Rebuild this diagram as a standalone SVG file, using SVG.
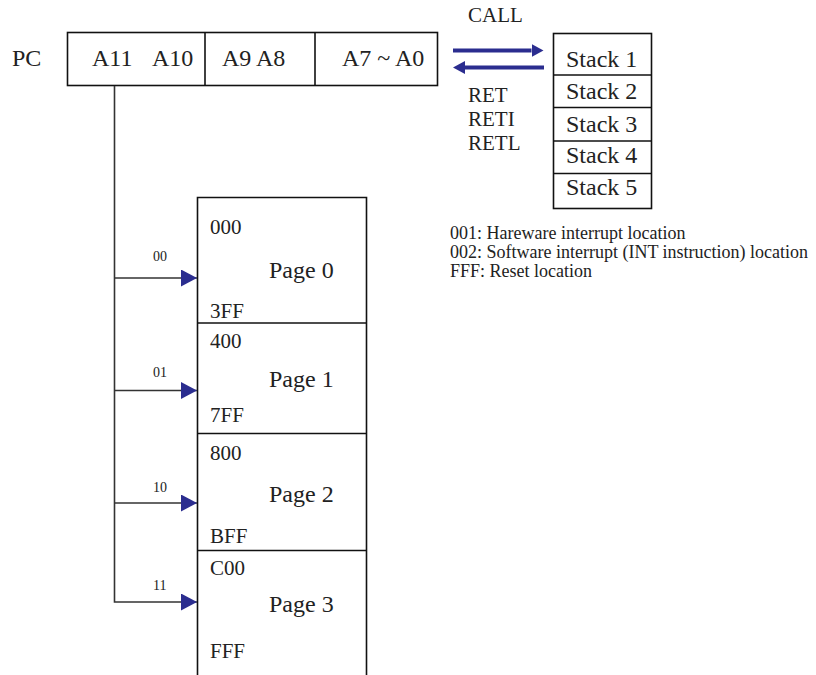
<svg xmlns="http://www.w3.org/2000/svg" width="816" height="675" viewBox="0 0 816 675">
<defs>
<style>
text{font-family:"Liberation Serif","Times New Roman",serif;fill:#222}
.box{fill:none;stroke:#111;stroke-width:1.6}
.t24{font-size:24px}
.t20{font-size:21px}
.t18{font-size:18px}
.t14{font-size:14px}
.conn{fill:none;stroke:#333;stroke-width:1.6}
.blue{fill:none;stroke:#2B2D8F;stroke-width:4}
</style>
<marker id="tri" viewBox="0 0 16 17" refX="16" refY="8.5" markerWidth="16" markerHeight="17" markerUnits="userSpaceOnUse" orient="auto">
<path d="M0,0 L16,8.5 L0,17 Z" fill="#2B2D8F"/>
</marker>
<marker id="btri" viewBox="0 0 12 13" refX="0" refY="6.5" markerWidth="12" markerHeight="13" markerUnits="userSpaceOnUse" orient="auto">
<path d="M0,0 L12,6.5 L0,13 Z" fill="#2B2D8F"/>
</marker>
</defs>
<rect width="816" height="675" fill="#fff"/>

<g id="pc">
<text class="t24" x="12" y="66">PC</text>
<rect class="box" x="67.5" y="32.5" width="370" height="53"/>
<line class="box" x1="205" y1="32.5" x2="205" y2="85.5"/>
<line class="box" x1="315" y1="32.5" x2="315" y2="85.5"/>
<text class="t24" x="92" y="66">A11</text>
<text class="t24" x="152" y="66">A10</text>
<text class="t24" x="222" y="66">A9 A8</text>
<text class="t24" x="342" y="66">A7 ~ A0</text>
</g>

<g id="stack">
<rect class="box" x="553.5" y="33.5" width="98" height="175"/>
<line class="box" x1="553.5" y1="75" x2="651.5" y2="75"/>
<line class="box" x1="553.5" y1="107.5" x2="651.5" y2="107.5"/>
<line class="box" x1="553.5" y1="141" x2="651.5" y2="141"/>
<line class="box" x1="553.5" y1="173.5" x2="651.5" y2="173.5"/>
<text class="t24" x="566" y="67">Stack 1</text>
<text class="t24" x="566" y="99">Stack 2</text>
<text class="t24" x="566" y="132">Stack 3</text>
<text class="t24" x="566" y="163">Stack 4</text>
<text class="t24" x="566" y="195">Stack 5</text>
</g>

<g id="pages">
<path class="box" d="M197.5,675 V197.5 H366.5 V675"/>
<line class="box" x1="197.5" y1="323" x2="366.5" y2="323"/>
<line class="box" x1="197.5" y1="433.5" x2="366.5" y2="433.5"/>
<line class="box" x1="197.5" y1="550.5" x2="366.5" y2="550.5"/>
</g>
<g id="page0">
<text class="t20" x="210" y="234">000</text>
<text class="t24" x="269" y="278">Page 0</text>
<text class="t20" x="210" y="318">3FF</text>
</g>
<g id="page1">
<text class="t20" x="210" y="348">400</text>
<text class="t24" x="269" y="387">Page 1</text>
<text class="t20" x="210" y="422">7FF</text>
</g>
<g id="page2">
<text class="t20" x="210" y="460">800</text>
<text class="t24" x="269" y="502">Page 2</text>
<text class="t20" x="210" y="543">BFF</text>
</g>
<g id="page3">
<text class="t20" x="210" y="575">C00</text>
<text class="t24" x="269" y="612">Page 3</text>
<text class="t20" x="210" y="658">FFF</text>
</g>

<g id="notes">
<text class="t18" x="450" y="239">001: Hareware interrupt location</text>
<text class="t18" x="450" y="258">002: Software interrupt (INT instruction) location</text>
<text class="t18" x="450" y="277">FFF: Reset location</text>
</g>

<g id="connectors">
<path class="conn" d="M114.5,86 V602 H197" marker-end="url(#tri)"/>
<line class="conn" x1="114.5" y1="278" x2="197" y2="278" marker-end="url(#tri)"/>
<line class="conn" x1="114.5" y1="390.5" x2="197" y2="390.5" marker-end="url(#tri)"/>
<line class="conn" x1="114.5" y1="503" x2="197" y2="503" marker-end="url(#tri)"/>
<line class="blue" x1="453" y1="50.5" x2="531.5" y2="50.5" marker-end="url(#btri)"/>
<line class="blue" x1="544" y1="67.5" x2="465" y2="67.5" marker-end="url(#btri)"/>
<text class="t20" x="468" y="22">CALL</text>
<text class="t20" x="468" y="102">RET</text>
<text class="t20" x="468" y="126">RETI</text>
<text class="t20" x="468" y="150">RETL</text>
<text class="t14" x="153" y="261">00</text>
<text class="t14" x="153" y="377">01</text>
<text class="t14" x="153" y="492">10</text>
<text class="t14" x="153" y="590">11</text>
</g>
</svg>
